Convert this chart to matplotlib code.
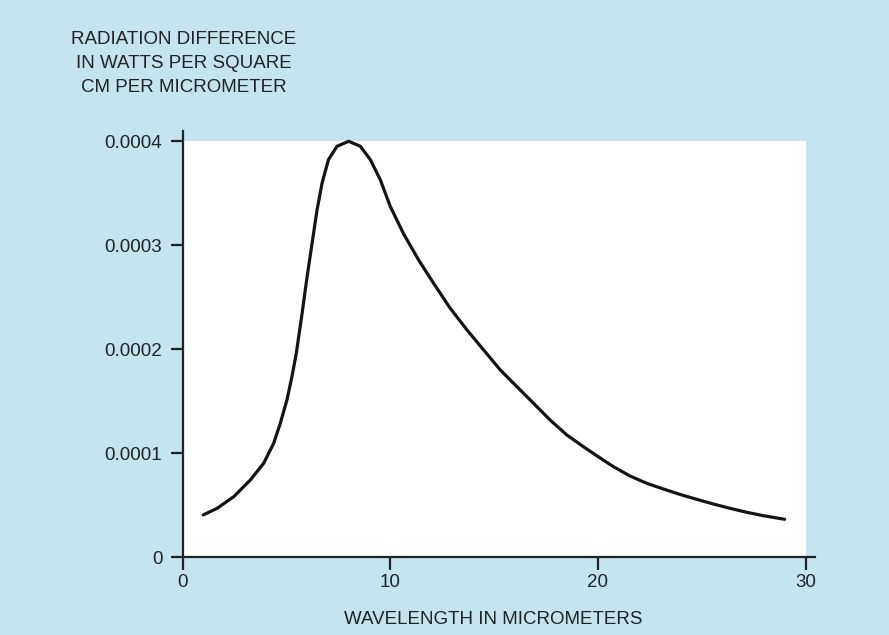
import matplotlib
matplotlib.use("Agg")
import matplotlib.pyplot as plt
from matplotlib.patches import Rectangle

# Data
wavelength = [1.00, 1.67, 2.47, 3.27, 3.91, 4.39, 4.71, 5.03, 5.27, 5.48,
              5.76, 6.00, 6.24, 6.48, 6.72, 7.03, 7.44, 8.00, 8.56, 9.04,
              9.52, 10.00, 10.64, 11.36, 12.08, 12.88, 13.69, 14.49, 15.29, 16.09,
              16.89, 17.69, 18.50, 19.29, 19.94, 20.74, 21.54, 22.34, 23.14, 23.94,
              24.74, 25.54, 26.35, 27.15, 27.95, 28.99]
radiation = [4.05e-5, 4.69e-5, 5.81e-5, 7.42e-5, 9.03e-5, 1.095e-4, 1.288e-4, 1.513e-4, 1.737e-4, 1.962e-4,
             2.348e-4, 2.700e-4, 3.022e-4, 3.343e-4, 3.600e-4, 3.825e-4, 3.953e-4, 4.001e-4, 3.953e-4, 3.825e-4,
             3.632e-4, 3.375e-4, 3.112e-4, 2.861e-4, 2.637e-4, 2.396e-4, 2.187e-4, 1.994e-4, 1.802e-4, 1.641e-4,
             1.481e-4, 1.320e-4, 1.175e-4, 1.063e-4, 9.75e-5, 8.70e-5, 7.80e-5, 7.10e-5, 6.55e-5, 6.03e-5,
             5.56e-5, 5.11e-5, 4.69e-5, 4.31e-5, 3.98e-5, 3.63e-5]
x_ticks = [0, 10, 20, 30]
x_tick_labels = ["0", "10", "20", "30"]
y_ticks = [0, 0.0001, 0.0002, 0.0003, 0.0004]
y_tick_labels = ["0", "0.0001", "0.0002", "0.0003", "0.0004"]

plt.rcParams['font.family'] = ['Liberation Sans', 'DejaVu Sans']
BG = "#c4e5ed"
INK = "#1e2326"

fig = plt.figure(figsize=(8.89, 6.35), dpi=100, facecolor=BG)
ax = fig.add_axes([182.5/889, 1 - 557/635, (815 - 182.5)/889, (557 - 131)/635])
ax.set_facecolor("none")
ax.set_xlim(0, 30.45)
ax.set_ylim(0, 0.000410)

ax.add_patch(Rectangle((0, 0), 30, 0.0004, facecolor="white", edgecolor="none", zorder=0))

ax.plot(wavelength, radiation, color="#141414", lw=2.3, solid_capstyle="round",
        solid_joinstyle="round", zorder=3)

for s in ["top", "right"]:
    ax.spines[s].set_visible(False)
for s in ["left", "bottom"]:
    ax.spines[s].set_linewidth(1.6)
    ax.spines[s].set_color(INK)

ax.set_xticks(x_ticks)
ax.set_xticklabels(x_tick_labels)
ax.set_yticks(y_ticks)
ax.set_yticklabels(y_tick_labels)
ax.tick_params(axis="both", direction="out", length=9, width=1.6, color=INK,
               labelsize=13.5, labelcolor=INK)
ax.tick_params(axis="x", pad=3.5)
ax.tick_params(axis="y", pad=5.5)

fig.text(183.5/889, 1 - 63.5/635, "RADIATION DIFFERENCE\nIN WATTS PER SQUARE\nCM PER MICROMETER",
         ha="center", va="center", fontsize=13.5, color=INK, linespacing=1.5)
fig.text(493/889, 1 - 619/635, "WAVELENGTH IN MICROMETERS", ha="center", va="center",
         fontsize=13.5, color=INK)

fig.savefig("out.png", dpi=100, facecolor=BG)
